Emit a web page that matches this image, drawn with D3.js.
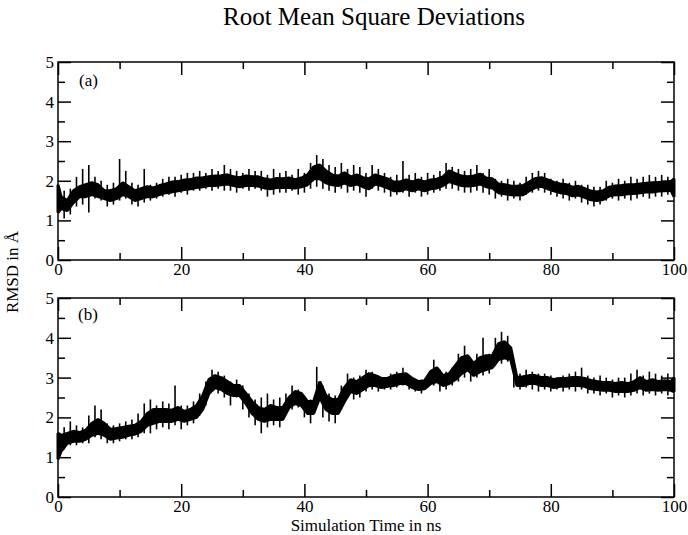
<!DOCTYPE html>
<html><head><meta charset="utf-8">
<script src="https://cdn.jsdelivr.net/npm/d3@7/dist/d3.min.js"></script>
<style>
html,body{margin:0;padding:0;background:#fff;}
svg{display:block;}
text{font-family:"Liberation Serif","Times New Roman",serif;fill:#000;}
</style></head>
<body>
<svg id="chart" width="688" height="535"></svg>
<script>
const chartTitle = "Root Mean Square Deviations";
const xLabel = "Simulation Time in ns";
const yLabel = "RMSD in Å";
const panelLabels = ["(a)", "(b)"];
const xMajorTicks = [0, 20, 40, 60, 80, 100];
const xMinorTicks = [10, 30, 50, 70, 90];
const yMajorTicks = [0, 1, 2, 3, 4, 5];
const yMinorTicks = [0.5, 1.5, 2.5, 3.5, 4.5];
// sampling times (ns), every 0.5 ns
const timeNs = d3.range(0, 100.25, 0.5);

// panel (a): lower and upper envelope of the trace
const rmsdALow = [
1.2,1.3,1.05,1.25,1.15,1.45,1.35,1.6,1.4,1.6,
1.2,1.65,1.55,1.6,1.5,1.55,1.35,1.5,1.4,1.55,
1.5,1.65,1.55,1.6,1.4,1.5,1.35,1.55,1.45,1.6,
1.5,1.6,1.55,1.65,1.6,1.7,1.65,1.72,1.6,1.75,
1.7,1.78,1.65,1.8,1.75,1.83,1.75,1.85,1.8,1.88,
1.75,1.88,1.8,1.9,1.75,1.92,1.75,1.88,1.7,1.85,
1.8,1.88,1.75,1.88,1.8,1.87,1.75,1.82,1.6,1.8,
1.65,1.83,1.7,1.84,1.7,1.83,1.75,1.82,1.65,1.85,
1.7,1.9,1.8,2.05,1.85,2.05,1.8,1.95,1.75,1.9,
1.7,1.88,1.8,1.95,1.7,1.88,1.75,1.92,1.7,1.85,
1.6,1.8,1.8,1.92,1.75,1.88,1.7,1.82,1.6,1.75,
1.65,1.75,1.7,1.8,1.6,1.75,1.7,1.8,1.6,1.75,
1.65,1.8,1.7,1.82,1.75,1.88,1.8,1.98,1.8,1.93,
1.75,1.88,1.7,1.87,1.7,1.88,1.75,1.92,1.7,1.85,
1.65,1.82,1.55,1.7,1.6,1.67,1.5,1.65,1.55,1.64,
1.5,1.65,1.65,1.75,1.7,1.83,1.75,1.86,1.7,1.8,
1.65,1.75,1.6,1.7,1.55,1.68,1.5,1.62,1.55,1.64,
1.45,1.58,1.4,1.52,1.35,1.5,1.4,1.53,1.5,1.62,
1.55,1.65,1.5,1.65,1.55,1.67,1.5,1.68,1.55,1.7,
1.6,1.72,1.55,1.72,1.6,1.74,1.6,1.75,1.65,1.76,
1.6];
const rmsdAHigh = [
1.9,1.6,1.75,1.5,1.8,1.75,2.1,1.85,2.3,1.9,
2.4,1.95,2.1,1.9,2.0,1.75,1.9,1.75,1.95,1.8,
2.55,1.95,2.25,1.85,1.95,1.75,1.9,1.8,2.3,1.85,
1.9,1.82,1.95,1.88,2.05,1.92,2.1,1.97,2.1,1.98,
2.15,2.02,2.2,2.03,2.2,2.07,2.25,2.08,2.2,2.1,
2.3,2.12,2.25,2.13,2.4,2.15,2.3,2.1,2.25,2.08,
2.2,2.12,2.3,2.1,2.25,2.1,2.25,2.05,2.15,2.02,
2.3,2.06,2.2,2.05,2.25,2.07,2.15,2.03,2.3,2.07,
2.2,2.15,2.45,2.35,2.65,2.4,2.55,2.25,2.4,2.15,
2.35,2.12,2.45,2.2,2.3,2.1,2.4,2.15,2.35,2.08,
2.2,2.05,2.4,2.15,2.3,2.1,2.2,2.05,2.1,1.97,
2.15,1.97,2.5,2.02,2.15,1.97,2.2,2.02,2.1,1.97,
2.2,2.02,2.15,2.04,2.25,2.1,2.45,2.25,2.35,2.18,
2.3,2.12,2.25,2.1,2.3,2.12,2.4,2.17,2.2,2.07,
2.3,2.05,2.05,1.92,2.0,1.9,2.05,1.87,2.0,1.86,
1.95,1.88,2.1,1.97,2.2,2.06,2.25,2.08,2.2,2.02,
2.05,1.96,2.0,1.92,2.05,1.9,1.95,1.84,2.0,1.86,
1.9,1.8,1.9,1.74,1.85,1.72,1.85,1.75,2.0,1.84,
1.95,1.87,2.05,1.88,2.0,1.9,2.1,1.9,2.05,1.92,
2.1,1.94,2.15,1.95,2.1,1.96,2.15,1.97,2.1,1.98,
2.05];

// panel (b): lower and upper envelope of the trace
const rmsdBLow = [
0.95,1.15,1.2,1.35,1.3,1.4,1.3,1.4,1.35,1.45,
1.35,1.55,1.5,1.6,1.45,1.55,1.35,1.45,1.35,1.48,
1.4,1.5,1.45,1.55,1.45,1.58,1.5,1.65,1.6,1.8,
1.6,1.85,1.7,1.9,1.75,1.9,1.7,1.9,1.8,1.95,
1.7,1.9,1.8,1.95,1.85,2.0,2.05,2.2,2.3,2.6,
2.65,2.75,2.6,2.7,2.5,2.6,2.3,2.55,2.5,2.55,
2.2,2.35,2.0,2.1,1.8,1.95,1.6,1.9,1.75,1.95,
1.8,1.95,1.75,1.95,2.1,2.25,2.2,2.35,2.25,2.3,
2.0,2.1,1.85,2.1,2.3,2.5,2.0,2.2,1.9,2.1,
1.85,2.1,2.2,2.4,2.5,2.65,2.45,2.6,2.5,2.7,
2.65,2.8,2.7,2.8,2.65,2.75,2.7,2.78,2.7,2.8,
2.75,2.85,2.8,2.85,2.7,2.75,2.65,2.7,2.6,2.72,
2.75,2.85,2.8,2.9,2.65,2.8,2.7,2.85,2.8,2.95,
2.9,3.1,3.0,3.2,2.9,3.05,3.0,3.15,3.05,3.2,
3.1,3.25,3.3,3.45,3.35,3.5,3.4,3.45,2.75,2.8,
2.7,2.8,2.75,2.85,2.7,2.85,2.65,2.8,2.7,2.8,
2.65,2.75,2.7,2.78,2.65,2.78,2.7,2.8,2.65,2.8,
2.7,2.78,2.6,2.72,2.6,2.7,2.55,2.68,2.6,2.68,
2.5,2.65,2.55,2.65,2.5,2.65,2.55,2.68,2.6,2.75,
2.55,2.68,2.6,2.7,2.55,2.68,2.6,2.7,2.55,2.68,
2.65];
const rmsdBHigh = [
1.6,1.55,1.75,1.6,1.9,1.65,1.8,1.62,1.75,1.68,
2.05,1.85,2.3,1.95,2.2,1.85,1.85,1.7,1.8,1.72,
1.85,1.75,1.9,1.78,1.95,1.8,2.1,1.9,2.35,2.1,
2.45,2.2,2.3,2.2,2.4,2.2,2.35,2.18,2.8,2.25,
2.3,2.15,2.3,2.2,2.4,2.3,2.6,2.55,2.9,2.95,
3.2,3.05,3.15,3.0,3.05,2.9,2.9,2.8,2.95,2.8,
2.8,2.6,2.6,2.4,2.45,2.25,2.5,2.2,2.6,2.3,
2.45,2.25,2.5,2.25,2.6,2.5,2.8,2.65,2.7,2.6,
2.55,2.4,2.45,2.4,3.27,2.9,2.8,2.55,2.6,2.45,
2.55,2.45,2.8,2.75,3.1,2.95,3.0,2.9,3.05,3.0,
3.2,3.1,3.15,3.05,3.05,2.98,3.0,2.98,3.1,3.05,
3.15,3.08,3.25,3.1,3.05,2.98,2.95,2.9,2.9,2.92,
3.05,3.15,3.45,3.25,3.2,3.05,3.15,3.1,3.25,3.3,
3.6,3.5,3.8,3.55,3.45,3.35,3.6,3.5,4.0,3.55,
3.6,3.55,4.0,3.85,4.15,3.9,4.05,3.75,3.1,3.0,
3.1,3.02,3.2,3.05,3.15,3.05,3.1,3.0,3.1,3.0,
3.05,2.95,3.0,2.98,3.05,2.98,3.1,3.0,3.15,3.0,
3.25,2.98,3.05,2.93,3.0,2.9,3.05,2.88,3.0,2.88,
2.95,2.85,3.0,2.88,3.0,2.85,3.1,2.9,3.2,3.0,
3.05,2.9,3.15,2.95,3.1,2.9,3.05,2.92,3.1,2.9,
3.0];

const svg = d3.select("#chart");
const plotLeft = 58, plotRight = 674;
const panels = [
  {top: 62, bottom: 260, low: rmsdALow, high: rmsdAHigh, label: panelLabels[0], lx: 79, ly: 86},
  {top: 298, bottom: 497, low: rmsdBLow, high: rmsdBHigh, label: panelLabels[1], lx: 78, ly: 320}
];
const x = d3.scaleLinear().domain([0, 100]).range([plotLeft, plotRight]);
const MAJ = 13, MIN = 7;
const FONT = '"Liberation Serif","Times New Roman",serif';

svg.append("text").attr("x", 374).attr("y", 25).attr("text-anchor", "middle")
  .style("font-size", "25px").text(chartTitle);

panels.forEach(p => {
  const y = d3.scaleLinear().domain([0, 5]).range([p.bottom, p.top]);
  const g = svg.append("g");
  const pts = timeNs.map((t, i) => ({t, lo: p.low[i], hi: p.high[i], i}));
  // dense core of the trace (half-ns samples)
  const core = pts.filter(d => d.i % 2 === 1 || d.i === 0 || d.i === pts.length - 1);
  const area = d3.area().x(d => x(d.t)).y0(d => y(d.lo)).y1(d => y(d.hi));
  g.append("path").datum(core).attr("d", area)
    .attr("fill", "#000").attr("stroke", "#000").attr("stroke-width", 3).attr("stroke-linejoin", "bevel");
  // excursions at whole-ns samples
  g.selectAll("line.spike").data(pts.filter(d => d.i % 2 === 0)).join("line").attr("class", "spike")
    .attr("x1", d => x(d.t)).attr("x2", d => x(d.t))
    .attr("y1", d => y(d.lo)).attr("y2", d => y(d.hi))
    .attr("stroke", "#000").attr("stroke-width", 1.6);

  const styleAxis = (sel, showText) => {
    sel.select(".domain").remove();
    sel.selectAll(".tick line").attr("stroke", "#000").attr("stroke-width", 1.5);
    sel.selectAll(".tick text").style("font-size", "17px").style("font-family", FONT).attr("fill", "#000");
    if (!showText) sel.selectAll(".tick text").remove();
  };
  // bottom
  g.append("g").attr("transform", `translate(0,${p.bottom})`)
    .call(d3.axisBottom(x).tickValues(xMajorTicks).tickSize(-MAJ).tickPadding(3).tickFormat(d3.format("d")))
    .call(s => styleAxis(s, true));
  g.append("g").attr("transform", `translate(0,${p.bottom})`)
    .call(d3.axisBottom(x).tickValues(xMinorTicks).tickSize(-MIN).tickFormat(""))
    .call(s => styleAxis(s, false));
  // top
  g.append("g").attr("transform", `translate(0,${p.top})`)
    .call(d3.axisTop(x).tickValues(xMajorTicks).tickSize(-MAJ).tickFormat(""))
    .call(s => styleAxis(s, false));
  g.append("g").attr("transform", `translate(0,${p.top})`)
    .call(d3.axisTop(x).tickValues(xMinorTicks).tickSize(-MIN).tickFormat(""))
    .call(s => styleAxis(s, false));
  // left
  g.append("g").attr("transform", `translate(${plotLeft},0)`)
    .call(d3.axisLeft(y).tickValues(yMajorTicks).tickSize(-MAJ).tickPadding(4).tickFormat(d3.format("d")))
    .call(s => styleAxis(s, true));
  g.append("g").attr("transform", `translate(${plotLeft},0)`)
    .call(d3.axisLeft(y).tickValues(yMinorTicks).tickSize(-MIN).tickFormat(""))
    .call(s => styleAxis(s, false));
  // right
  g.append("g").attr("transform", `translate(${plotRight},0)`)
    .call(d3.axisRight(y).tickValues(yMajorTicks).tickSize(-MAJ).tickFormat(""))
    .call(s => styleAxis(s, false));
  g.append("g").attr("transform", `translate(${plotRight},0)`)
    .call(d3.axisRight(y).tickValues(yMinorTicks).tickSize(-MIN).tickFormat(""))
    .call(s => styleAxis(s, false));

  g.append("rect").attr("x", plotLeft).attr("y", p.top)
    .attr("width", plotRight - plotLeft).attr("height", p.bottom - p.top)
    .attr("fill", "none").attr("stroke", "#000").attr("stroke-width", 1.5);

  g.append("text").attr("x", p.lx).attr("y", p.ly).style("font-size", "17px").text(p.label);
});

svg.append("text").attr("x", 366).attr("y", 531).attr("text-anchor", "middle")
  .style("font-size", "17px").text(xLabel);
svg.append("text").attr("transform", "translate(18,272) rotate(-90)").attr("text-anchor", "middle")
  .style("font-size", "17px").text(yLabel);
</script>
</body></html>
